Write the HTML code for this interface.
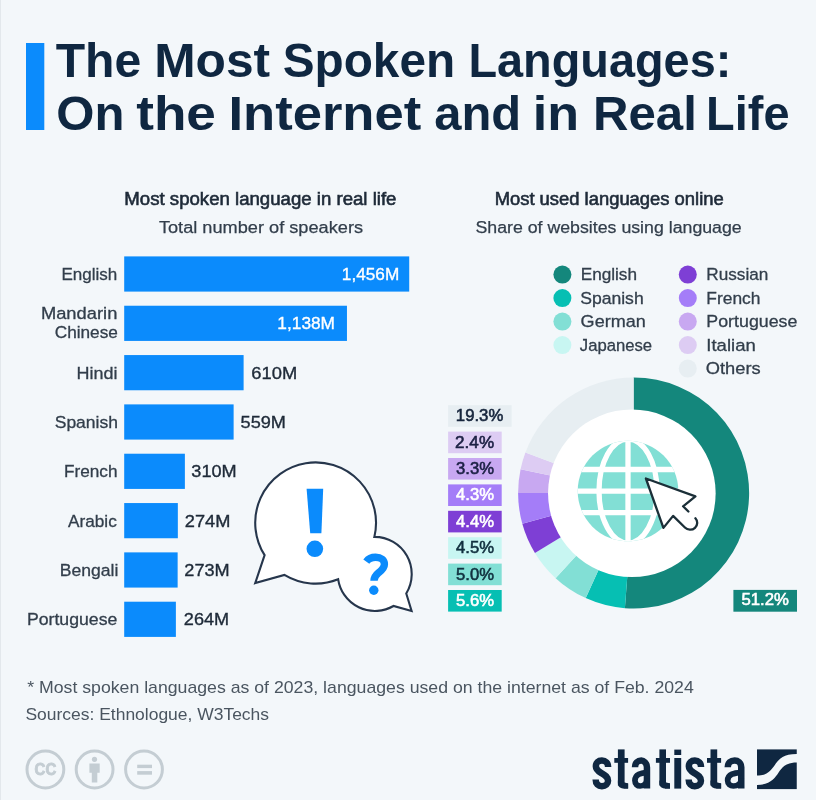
<!DOCTYPE html>
<html><head><meta charset="utf-8"><title>The Most Spoken Languages</title>
<style>html,body{margin:0;padding:0;background:#F3F7FA}svg{display:block;font-family:"Liberation Sans",sans-serif;will-change:transform;filter:blur(0.4px)}</style></head>
<body>
<svg width="816" height="800" viewBox="0 0 816 800">
<rect x="0" y="0" width="816" height="800" fill="#F3F7FA"/>
<rect x="0" y="0" width="1" height="800" fill="#E3E8EC"/>
<rect x="26" y="43" width="18.3" height="87" fill="#0B8BFC"/>
<rect x="124.2" y="256.40" width="285.01" height="35.20" fill="#0B8BFC"/>
<rect x="124.2" y="305.73" width="222.76" height="35.20" fill="#0B8BFC"/>
<rect x="124.2" y="355.06" width="119.41" height="35.20" fill="#0B8BFC"/>
<rect x="124.2" y="404.39" width="109.42" height="35.20" fill="#0B8BFC"/>
<rect x="124.2" y="453.72" width="60.68" height="35.20" fill="#0B8BFC"/>
<rect x="124.2" y="503.05" width="53.64" height="35.20" fill="#0B8BFC"/>
<rect x="124.2" y="552.38" width="53.44" height="35.20" fill="#0B8BFC"/>
<rect x="124.2" y="601.71" width="51.68" height="35.20" fill="#0B8BFC"/>
<circle cx="562.4" cy="274.60" r="9" fill="#14877C"/>
<circle cx="562.4" cy="298.10" r="9" fill="#06BFB3"/>
<circle cx="562.4" cy="321.60" r="9" fill="#82DFD5"/>
<circle cx="562.4" cy="345.10" r="9" fill="#C8F6F2"/>
<circle cx="687.8" cy="274.60" r="9" fill="#7E3FD5"/>
<circle cx="687.8" cy="298.10" r="9" fill="#A47DF8"/>
<circle cx="687.8" cy="321.60" r="9" fill="#C8A8F1"/>
<circle cx="687.8" cy="345.10" r="9" fill="#DDCCF3"/>
<circle cx="687.8" cy="368.60" r="9" fill="#E7EEF2"/>
<path d="M633.6 493.0L633.60 377.50A115.5 115.5 0 1 1 624.90 608.17Z" fill="#14877C"/>
<path d="M633.6 493.0L624.90 608.17A115.5 115.5 0 0 1 585.74 598.12Z" fill="#06BFB3"/>
<path d="M633.6 493.0L585.74 598.12A115.5 115.5 0 0 1 555.60 578.18Z" fill="#82DFD5"/>
<path d="M633.6 493.0L555.60 578.18A115.5 115.5 0 0 1 534.93 553.04Z" fill="#C8F6F2"/>
<path d="M633.6 493.0L534.93 553.04A115.5 115.5 0 0 1 522.29 523.83Z" fill="#7E3FD5"/>
<path d="M633.6 493.0L522.29 523.83A115.5 115.5 0 0 1 518.10 493.00Z" fill="#A47DF8"/>
<path d="M633.6 493.0L518.10 493.00A115.5 115.5 0 0 1 520.57 469.22Z" fill="#C8A8F1"/>
<path d="M633.6 493.0L520.57 469.22A115.5 115.5 0 0 1 525.43 452.51Z" fill="#DDCCF3"/>
<path d="M633.6 493.0L525.43 452.51A115.5 115.5 0 0 1 633.60 377.50Z" fill="#E7EEF2"/>
<circle cx="631.85" cy="493.3" r="83.8" fill="#FFFFFF"/>
<rect x="448.1" y="405.20" width="63.5" height="21.6" fill="#E7EEF2"/>
<rect x="448.1" y="431.60" width="53.6" height="21.6" fill="#DDCCF3"/>
<rect x="448.1" y="458.00" width="53.6" height="21.6" fill="#C8A8F1"/>
<rect x="448.1" y="484.40" width="53.6" height="21.6" fill="#A47DF8"/>
<rect x="448.1" y="510.80" width="53.6" height="21.6" fill="#7E3FD5"/>
<rect x="448.1" y="537.20" width="53.6" height="21.6" fill="#C8F6F2"/>
<rect x="448.1" y="563.60" width="53.6" height="21.6" fill="#82DFD5"/>
<rect x="448.1" y="590.00" width="53.6" height="21.6" fill="#06BFB3"/>
<rect x="733.4" y="589.9" width="63.6" height="21.8" fill="#14877C"/>
<g><clipPath id="gc"><circle cx="628.0" cy="491.1" r="50.3"/></clipPath><circle cx="628.0" cy="491.1" r="50.3" fill="#82DFD5"/>
<g clip-path="url(#gc)" stroke="#FFFFFF" stroke-width="5.3" fill="none">
<line x1="628.0" y1="431.1" x2="628.0" y2="551.1"/>
<line x1="568.0" y1="469.5" x2="688.0" y2="469.5"/>
<line x1="568.0" y1="491.1" x2="688.0" y2="491.1"/>
<line x1="568.0" y1="512.7" x2="688.0" y2="512.7"/>
<ellipse cx="628.0" cy="491.1" rx="29" ry="52"/>
</g></g>
<path d="M645.9 478.5L695.4 496.4L683.1 506.3L673.1 515.9L663.4 527.9Z" fill="#FFFFFF"/>
<path d="M688.4 511.5L683.1 506.3L695.4 496.4L645.9 478.5L663.4 527.9L673.1 515.9L684.9 527.5C687.5 530.2 692 530.6 695 527.8C697.8 525.2 697.9 521 695.4 518.3" fill="none" stroke="#1B2F38" stroke-width="2.3" stroke-linejoin="round" stroke-linecap="round"/>
<path d="M264.6 555.1A60.4 60.4 0 1 1 374.35 536.9A37.2 37.2 0 0 1 406.25 593.5L411.6 611L393.5 606A37.2 37.2 0 0 1 338.16 579.29A60.4 60.4 0 0 1 284.4 574.9L255.2 583.1Z" fill="#FFFFFF" stroke="#26364C" stroke-width="2.1" stroke-linejoin="miter"/>
<path d="M306.6 488.8L323.2 488.8L321.4 533.3L310.2 533.3Z" fill="#0B8BFC"/>
<circle cx="314.85" cy="548.8" r="8.3" fill="#0B8BFC"/>
<path d="M366.3 561.6C368.5 558.6 372 557.3 375.6 557.3C381 557.3 384.4 560 384.4 564.2C384.4 568.3 381.5 570.3 378.4 572.8C375.3 575.3 374 577 374 580.8" fill="none" stroke="#0B8BFC" stroke-width="7.4"/>
<circle cx="373.8" cy="590.3" r="4.7" fill="#0B8BFC"/>
<circle cx="45.4" cy="769.5" r="18.4" fill="none" stroke="#C4CDD3" stroke-width="3"/>
<circle cx="94.6" cy="769.5" r="18.4" fill="none" stroke="#C4CDD3" stroke-width="3"/>
<circle cx="144.0" cy="769.5" r="18.4" fill="none" stroke="#C4CDD3" stroke-width="3"/>
<text x="45.4" y="775.2" font-size="16.5" font-weight="bold" fill="#C4CDD3" stroke="#C4CDD3" stroke-width="0.9" text-anchor="middle" textLength="21.6" lengthAdjust="spacingAndGlyphs">CC</text>
<circle cx="94.5" cy="759.3" r="2.6" fill="#C4CDD3"/><path d="M89.4 763.4h10.3v9.3h-2.4v9.8h-5.5v-9.8h-2.4z" fill="#C4CDD3"/>
<rect x="137.2" y="764.7" width="14.8" height="3.4" fill="#C4CDD3"/><rect x="137.2" y="771.1" width="14.8" height="3.6" fill="#C4CDD3"/>
<rect x="757" y="749.4" width="39.75" height="39.7" fill="#0F2741"/>
<path d="M755.5 775.6L757 775.6C768 775.6 771 770 775 764.75C779 759 783 753.9 796.75 753.9L798.5 753.9L798.5 762.5L796.75 762.5C785 762.5 782 768 778.75 772.25C775 778 770 785 757 785L755.5 785Z" fill="#F3F7FA"/>
<g>
<path d="M608.13 767.00C608.13 762.84 605.62 760.60 601.90 760.60C598.18 760.60 595.86 762.84 595.86 766.20C595.86 770.20 598.74 771.48 601.90 773.40C605.25 775.32 608.04 776.92 608.04 780.76C608.04 783.96 605.62 786.20 601.90 786.20C598.18 786.20 595.67 783.96 595.67 779.48" fill="none" stroke="#0F2741" stroke-width="6.5"/>
<rect x="617.90" y="749.40" width="6.70" height="36.20" fill="#0F2741"/><rect x="614.30" y="758" width="13.80" height="4.8" fill="#0F2741"/><path d="M617.90 780.60L617.90 783.10C617.90 787.10 620.40 788.60 624.40 788.60L628.10 788.60L628.10 783.40Z" fill="#0F2741"/><rect x="623.60" y="783.40" width="4.50" height="5.2" fill="#0F2741"/>
<path d="M635.03 767.26C635.03 762.81 637.69 760.58 641.30 760.58C643.45 760.58 646.95 762.81 646.95 767.26L646.95 788.40" fill="none" stroke="#0F2741" stroke-width="6.5"/><path d="M646.95 772.35C641.30 772.98 634.93 773.94 634.93 780.61C634.93 784.11 637.31 786.02 640.16 786.02C643.58 786.02 646.95 783.48 646.95 778.39" fill="none" stroke="#0F2741" stroke-width="5.7"/>
<rect x="659.40" y="749.40" width="6.60" height="36.20" fill="#0F2741"/><rect x="655.90" y="758" width="14.10" height="4.8" fill="#0F2741"/><path d="M659.40 780.60L659.40 783.10C659.40 787.10 661.90 788.60 665.90 788.60L670.00 788.60L670.00 783.40Z" fill="#0F2741"/><rect x="665.00" y="783.40" width="5.00" height="5.2" fill="#0F2741"/>
<rect x="674.3" y="749.6" width="6.9" height="5.4" fill="#0F2741"/><rect x="674.3" y="758" width="6.9" height="30.6" fill="#0F2741"/>
<path d="M701.05 767.00C701.05 762.84 698.55 760.60 694.85 760.60C691.15 760.60 688.84 762.84 688.84 766.20C688.84 770.20 691.71 771.48 694.85 773.40C698.18 775.32 700.96 776.92 700.96 780.76C700.96 783.96 698.55 786.20 694.85 786.20C691.15 786.20 688.65 783.96 688.65 779.48" fill="none" stroke="#0F2741" stroke-width="6.5"/>
<rect x="710.50" y="749.40" width="6.70" height="36.20" fill="#0F2741"/><rect x="707.00" y="758" width="14.10" height="4.8" fill="#0F2741"/><path d="M710.50 780.60L710.50 783.10C710.50 787.10 713.00 788.60 717.00 788.60L721.10 788.60L721.10 783.40Z" fill="#0F2741"/><rect x="716.20" y="783.40" width="4.90" height="5.2" fill="#0F2741"/>
<path d="M727.75 767.26C727.75 762.81 730.68 760.58 734.65 760.58C737.75 760.58 741.25 762.81 741.25 767.26L741.25 788.40" fill="none" stroke="#0F2741" stroke-width="6.5"/><path d="M741.25 772.35C734.65 772.98 727.65 773.94 727.65 780.61C727.65 784.11 730.26 786.02 733.40 786.02C737.16 786.02 741.25 783.48 741.25 778.39" fill="none" stroke="#0F2741" stroke-width="5.7"/>
</g>
<text x="55.71" y="76.90" font-size="48.5" font-weight="bold" fill="#0F2741" textLength="85.52" lengthAdjust="spacingAndGlyphs" >The</text>
<text x="154.23" y="76.90" font-size="48.5" font-weight="bold" fill="#0F2741" textLength="115.93" lengthAdjust="spacingAndGlyphs" >Most</text>
<text x="282.73" y="76.90" font-size="48.5" font-weight="bold" fill="#0F2741" textLength="172.41" lengthAdjust="spacingAndGlyphs" >Spoken</text>
<text x="468.40" y="76.90" font-size="48.5" font-weight="bold" fill="#0F2741" textLength="262.94" lengthAdjust="spacingAndGlyphs" >Languages:</text>
<text x="56.28" y="129.90" font-size="48.5" font-weight="bold" fill="#0F2741" textLength="68.12" lengthAdjust="spacingAndGlyphs" >On</text>
<text x="136.20" y="129.90" font-size="48.5" font-weight="bold" fill="#0F2741" textLength="79.71" lengthAdjust="spacingAndGlyphs" >the</text>
<text x="228.45" y="129.90" font-size="48.5" font-weight="bold" fill="#0F2741" textLength="192.78" lengthAdjust="spacingAndGlyphs" >Internet</text>
<text x="434.29" y="129.90" font-size="48.5" font-weight="bold" fill="#0F2741" textLength="86.97" lengthAdjust="spacingAndGlyphs" >and</text>
<text x="532.78" y="129.90" font-size="48.5" font-weight="bold" fill="#0F2741" textLength="46.26" lengthAdjust="spacingAndGlyphs" >in</text>
<text x="592.96" y="129.90" font-size="48.5" font-weight="bold" fill="#0F2741" textLength="103.84" lengthAdjust="spacingAndGlyphs" >Real</text>
<text x="706.10" y="129.90" font-size="48.5" font-weight="bold" fill="#0F2741" textLength="83.39" lengthAdjust="spacingAndGlyphs" >Life</text>
<text x="124.34" y="204.60" font-size="17.6" font-weight="normal" fill="#1E2A38" textLength="272.11" lengthAdjust="spacingAndGlyphs" stroke="#1E2A38" stroke-width="0.6">Most spoken language in real life</text>
<text x="158.90" y="233.30" font-size="17.3" font-weight="normal" fill="#323E4B" textLength="204.15" lengthAdjust="spacingAndGlyphs" stroke="#323E4B" stroke-width="0.25">Total number of speakers</text>
<text x="494.65" y="204.60" font-size="17.6" font-weight="normal" fill="#1E2A38" textLength="229.06" lengthAdjust="spacingAndGlyphs" stroke="#1E2A38" stroke-width="0.6">Most used languages online</text>
<text x="475.47" y="233.30" font-size="17.3" font-weight="normal" fill="#323E4B" textLength="266.24" lengthAdjust="spacingAndGlyphs" stroke="#323E4B" stroke-width="0.25">Share of websites using language</text>
<text x="61.49" y="280.00" font-size="16.9" font-weight="normal" fill="#323E4B" textLength="55.82" lengthAdjust="spacingAndGlyphs" stroke="#323E4B" stroke-width="0.3">English</text>
<text x="76.44" y="378.66" font-size="16.9" font-weight="normal" fill="#323E4B" textLength="41.00" lengthAdjust="spacingAndGlyphs" stroke="#323E4B" stroke-width="0.3">Hindi</text>
<text x="54.71" y="427.99" font-size="16.9" font-weight="normal" fill="#323E4B" textLength="63.27" lengthAdjust="spacingAndGlyphs" stroke="#323E4B" stroke-width="0.3">Spanish</text>
<text x="63.98" y="477.32" font-size="16.9" font-weight="normal" fill="#323E4B" textLength="53.51" lengthAdjust="spacingAndGlyphs" stroke="#323E4B" stroke-width="0.3">French</text>
<text x="68.00" y="526.65" font-size="16.9" font-weight="normal" fill="#323E4B" textLength="48.79" lengthAdjust="spacingAndGlyphs" stroke="#323E4B" stroke-width="0.3">Arabic</text>
<text x="59.71" y="575.98" font-size="16.9" font-weight="normal" fill="#323E4B" textLength="58.60" lengthAdjust="spacingAndGlyphs" stroke="#323E4B" stroke-width="0.3">Bengali</text>
<text x="26.95" y="625.31" font-size="16.9" font-weight="normal" fill="#323E4B" textLength="90.37" lengthAdjust="spacingAndGlyphs" stroke="#323E4B" stroke-width="0.3">Portuguese</text>
<text x="40.91" y="319.30" font-size="16.9" font-weight="normal" fill="#323E4B" textLength="76.44" lengthAdjust="spacingAndGlyphs" stroke="#323E4B" stroke-width="0.3">Mandarin</text>
<text x="54.73" y="337.50" font-size="16.9" font-weight="normal" fill="#323E4B" textLength="63.17" lengthAdjust="spacingAndGlyphs" stroke="#323E4B" stroke-width="0.3">Chinese</text>
<text x="341.89" y="279.90" font-size="17.0" font-weight="normal" fill="#FFFFFF" textLength="57.37" lengthAdjust="spacingAndGlyphs" stroke="#FFFFFF" stroke-width="0.35">1,456M</text>
<text x="277.38" y="329.23" font-size="17.0" font-weight="normal" fill="#FFFFFF" textLength="57.63" lengthAdjust="spacingAndGlyphs" stroke="#FFFFFF" stroke-width="0.35">1,138M</text>
<text x="251.32" y="378.56" font-size="17.0" font-weight="normal" fill="#1E2A38" textLength="45.88" lengthAdjust="spacingAndGlyphs" stroke="#1E2A38" stroke-width="0.35">610M</text>
<text x="240.58" y="427.89" font-size="17.0" font-weight="normal" fill="#1E2A38" textLength="45.35" lengthAdjust="spacingAndGlyphs" stroke="#1E2A38" stroke-width="0.35">559M</text>
<text x="191.33" y="477.22" font-size="17.0" font-weight="normal" fill="#1E2A38" textLength="45.35" lengthAdjust="spacingAndGlyphs" stroke="#1E2A38" stroke-width="0.35">310M</text>
<text x="184.83" y="526.55" font-size="17.0" font-weight="normal" fill="#1E2A38" textLength="45.61" lengthAdjust="spacingAndGlyphs" stroke="#1E2A38" stroke-width="0.35">274M</text>
<text x="184.33" y="575.88" font-size="17.0" font-weight="normal" fill="#1E2A38" textLength="45.35" lengthAdjust="spacingAndGlyphs" stroke="#1E2A38" stroke-width="0.35">273M</text>
<text x="183.83" y="625.21" font-size="17.0" font-weight="normal" fill="#1E2A38" textLength="45.35" lengthAdjust="spacingAndGlyphs" stroke="#1E2A38" stroke-width="0.35">264M</text>
<text x="580.68" y="280.30" font-size="16.9" font-weight="normal" fill="#323E4B" textLength="56.33" lengthAdjust="spacingAndGlyphs" stroke="#323E4B" stroke-width="0.3">English</text>
<text x="580.16" y="303.75" font-size="16.9" font-weight="normal" fill="#323E4B" textLength="63.53" lengthAdjust="spacingAndGlyphs" stroke="#323E4B" stroke-width="0.3">Spanish</text>
<text x="580.63" y="327.20" font-size="16.9" font-weight="normal" fill="#323E4B" textLength="65.05" lengthAdjust="spacingAndGlyphs" stroke="#323E4B" stroke-width="0.3">German</text>
<text x="579.80" y="350.65" font-size="16.9" font-weight="normal" fill="#323E4B" textLength="72.36" lengthAdjust="spacingAndGlyphs" stroke="#323E4B" stroke-width="0.3">Japanese</text>
<text x="706.38" y="280.30" font-size="16.9" font-weight="normal" fill="#323E4B" textLength="61.96" lengthAdjust="spacingAndGlyphs" stroke="#323E4B" stroke-width="0.3">Russian</text>
<text x="706.37" y="303.75" font-size="16.9" font-weight="normal" fill="#323E4B" textLength="54.12" lengthAdjust="spacingAndGlyphs" stroke="#323E4B" stroke-width="0.3">French</text>
<text x="706.35" y="327.20" font-size="16.9" font-weight="normal" fill="#323E4B" textLength="91.08" lengthAdjust="spacingAndGlyphs" stroke="#323E4B" stroke-width="0.3">Portuguese</text>
<text x="706.30" y="350.65" font-size="16.9" font-weight="normal" fill="#323E4B" textLength="49.48" lengthAdjust="spacingAndGlyphs" stroke="#323E4B" stroke-width="0.3">Italian</text>
<text x="705.82" y="374.10" font-size="16.9" font-weight="normal" fill="#323E4B" textLength="54.84" lengthAdjust="spacingAndGlyphs" stroke="#323E4B" stroke-width="0.3">Others</text>
<text x="455.83" y="421.10" font-size="17.3" font-weight="normal" fill="#16253C" textLength="47.48" lengthAdjust="spacingAndGlyphs" stroke="#16253C" stroke-width="0.6">19.3%</text>
<text x="455.11" y="447.50" font-size="17.3" font-weight="normal" fill="#1C2044" textLength="38.98" lengthAdjust="spacingAndGlyphs" stroke="#1C2044" stroke-width="0.6">2.4%</text>
<text x="456.10" y="473.90" font-size="17.3" font-weight="normal" fill="#1C2044" textLength="37.98" lengthAdjust="spacingAndGlyphs" stroke="#1C2044" stroke-width="0.6">3.3%</text>
<text x="456.10" y="500.30" font-size="17.3" font-weight="normal" fill="#FFFFFF" textLength="37.98" lengthAdjust="spacingAndGlyphs" stroke="#FFFFFF" stroke-width="0.6">4.3%</text>
<text x="456.10" y="526.70" font-size="17.3" font-weight="normal" fill="#FFFFFF" textLength="37.98" lengthAdjust="spacingAndGlyphs" stroke="#FFFFFF" stroke-width="0.6">4.4%</text>
<text x="456.10" y="553.10" font-size="17.3" font-weight="normal" fill="#11303F" textLength="37.98" lengthAdjust="spacingAndGlyphs" stroke="#11303F" stroke-width="0.6">4.5%</text>
<text x="456.10" y="579.50" font-size="17.3" font-weight="normal" fill="#11303F" textLength="37.98" lengthAdjust="spacingAndGlyphs" stroke="#11303F" stroke-width="0.6">5.0%</text>
<text x="456.10" y="605.90" font-size="17.3" font-weight="normal" fill="#FFFFFF" textLength="37.98" lengthAdjust="spacingAndGlyphs" stroke="#FFFFFF" stroke-width="0.6">5.6%</text>
<text x="741.50" y="605.40" font-size="17.3" font-weight="normal" fill="#FFFFFF" textLength="47.42" lengthAdjust="spacingAndGlyphs" stroke="#FFFFFF" stroke-width="0.6">51.2%</text>
<text x="27.20" y="693.40" font-size="16.4" font-weight="normal" fill="#4A5560" textLength="666.61" lengthAdjust="spacingAndGlyphs" >* Most spoken languages as of 2023, languages used on the internet as of Feb. 2024</text>
<text x="25.43" y="719.90" font-size="16.4" font-weight="normal" fill="#4A5560" textLength="243.60" lengthAdjust="spacingAndGlyphs" >Sources: Ethnologue, W3Techs</text>
</svg>
</body></html>
